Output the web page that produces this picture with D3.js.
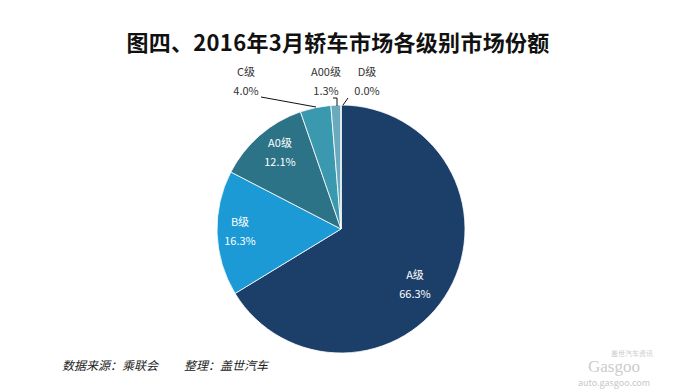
<!DOCTYPE html>
<html>
<head>
<meta charset="utf-8">
<script src="https://cdn.jsdelivr.net/npm/d3@7"></script>
<style>
  body { margin: 0; background: #fff; }
  svg text { font-family: "Noto Sans CJK SC", "Microsoft YaHei", sans-serif; }
</style>
</head>
<body>
<svg width="680" height="389"></svg>
<script>
// data, clockwise from 12 o'clock
var categories = ["A级", "B级", "A0级", "C级", "A00级", "D级"];
var shares = [66.3, 16.3, 12.1, 4.0, 1.3, 0.0];
var colors = ["#1c3f6a", "#1b9ad6", "#2c7387", "#3a98af", "#6aaabf", "#8fc0d0"];

var svg = d3.select("svg");
var cx = 341, cy = 229, r = 124;

svg.append("text")
    .attr("x", 338).attr("y", 51)
    .attr("text-anchor", "middle")
    .style("font-size", "22px").style("font-weight", "bold").attr("fill", "#111")
    .style("letter-spacing", "0.3px")
    .text("图四、2016年3月轿车市场各级别市场份额");

var data = categories.map(function(c, i) { return {name: c, value: shares[i], color: colors[i]}; });

var pie = d3.pie().sort(null).value(function(d) { return d.value; });
var arc = d3.arc().innerRadius(0).outerRadius(r);
var arcs = pie(data);

var g = svg.append("g").attr("transform", "translate(" + cx + "," + cy + ")");

g.selectAll("path")
    .data(arcs)
    .enter()
    .append("path")
    .attr("d", arc)
    .attr("fill", function(d) { return d.data.color; })
    .attr("stroke", "#fff")
    .attr("stroke-width", 0.8);

// inside labels for big slices
var inner = {"A级": [74, 50], "B级": [-101, -3], "A0级": [-61, -82]};
var fmt = function(v) { return v.toFixed(1) + "%"; };

arcs.forEach(function(d) {
    var p = inner[d.data.name];
    if (!p) return;
    g.append("text").attr("x", p[0]).attr("y", p[1])
        .attr("text-anchor", "middle").attr("fill", "#fff").style("font-size", "11px")
        .text(d.data.name);
    g.append("text").attr("x", p[0]).attr("y", p[1] + 19)
        .attr("text-anchor", "middle").attr("fill", "#fff").style("font-size", "11px")
        .text(fmt(d.data.value));
});

// outside labels with leader lines
var outer = {"C级": [-95, -153], "A00级": [-15, -153], "D级": [26, -153]};
var leaders = {
    "C级": [[-80, -132], [-25, -122]],
    "A00级": [[-8, -131], [-4, -131], [-4, -123]],
    "D级": [[7, -131], [2, -124]]
};

arcs.forEach(function(d) {
    var p = outer[d.data.name];
    if (!p) return;
    g.append("text").attr("x", p[0]).attr("y", p[1])
        .attr("text-anchor", "middle").attr("fill", "#333").style("font-size", "11px")
        .text(d.data.name);
    g.append("text").attr("x", p[0]).attr("y", p[1] + 19)
        .attr("text-anchor", "middle").attr("fill", "#333").style("font-size", "11px")
        .text(fmt(d.data.value));
    g.append("path")
        .attr("d", d3.line()(leaders[d.data.name]))
        .attr("fill", "none").attr("stroke", "#111").attr("stroke-width", 1);
});

svg.append("text")
    .attr("x", 62).attr("y", 370)
    .style("font-size", "12px").style("font-style", "italic").attr("fill", "#222")
    .text("数据来源：乘联会");
svg.append("text")
    .attr("x", 184).attr("y", 370)
    .style("font-size", "12px").style("font-style", "italic").attr("fill", "#222")
    .text("整理：盖世汽车");

// watermark
svg.append("text").attr("x", 632).attr("y", 356)
    .attr("text-anchor", "middle").style("font-size", "7px").attr("fill", "#ccc")
    .text("盖世汽车资讯");
svg.append("text").attr("x", 614).attr("y", 372)
    .attr("text-anchor", "middle").style("font-size", "17px").attr("fill", "#ccc")
    .style("font-family", "Liberation Serif").text("Gasgoo");
svg.append("text").attr("x", 614).attr("y", 386)
    .attr("text-anchor", "middle").style("font-size", "9px").attr("fill", "#c8c8c8")
    .text("auto.gasgoo.com");
</script>
</body>
</html>
